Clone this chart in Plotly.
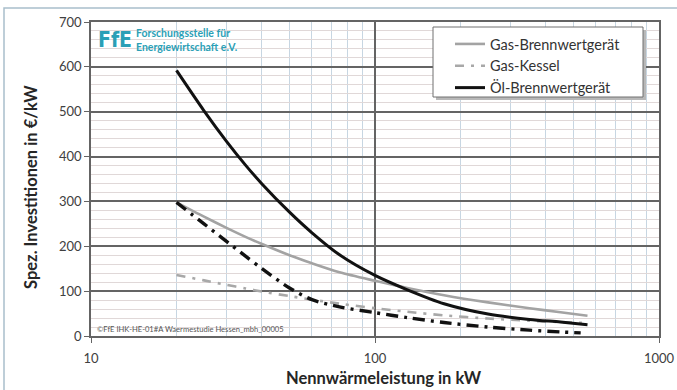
import plotly.graph_objects as go

# Nennwärmeleistung in kW
leistung = [20, 25, 30, 35, 40, 50, 60, 75, 100, 130, 175, 250, 350, 450, 560]

# Spezifische Investitionen in €/kW
gas_brennwert = [298, 266, 241, 221, 205, 180, 162, 142, 123, 107, 91, 75, 62, 53, 45]
gas_kessel = [136, 124, 114, 106, 99, 89, 81, 72, 62, 54, 46, 39, 34, 31, 29]
oel_brennwert = [592, 502, 434, 381, 339, 276, 230, 181, 135, 103, 72, 49, 37, 31, 25]
oel_kessel_x = [20, 25, 30, 35, 40, 50, 60, 75, 100, 130, 175, 250, 350, 450, 530]
oel_kessel = [298, 250, 211, 178, 150, 107, 81, 65, 52, 41, 30, 20, 13, 9, 7]

x_major = [10, 100, 1000]
x_minor = [20, 30, 40, 50, 60, 70, 80, 90, 200, 300, 400, 500, 600, 700, 800, 900]

TXT = "#404040"
GRID = "#646464"
TEAL = "#2b9fb6"
FONT = "Lato, 'Noto Sans', sans-serif"

fig = go.Figure()

fig.add_trace(go.Scatter(x=leistung, y=gas_brennwert, mode="lines", name="Gas-Brennwertgerät",
                         line=dict(color="#a3a3a3", width=2.6, shape="spline", smoothing=0.8)))
fig.add_trace(go.Scatter(x=leistung, y=gas_kessel, mode="lines", name="Gas-Kessel",
                         line=dict(color="#a8a8a8", width=2.6, dash="9px,7px,3px,7px",
                                   shape="spline", smoothing=0.8)))
fig.add_trace(go.Scatter(x=leistung, y=oel_brennwert, mode="lines", name="Öl-Brennwertgerät",
                         line=dict(color="#111111", width=3, shape="spline", smoothing=0.8)))
fig.add_trace(go.Scatter(x=oel_kessel_x, y=oel_kessel, mode="lines", name="Öl-Kessel", showlegend=False,
                         line=dict(color="#111111", width=3.4, dash="12px,6px,3px,6px",
                                   shape="spline", smoothing=0.8)))

# plot-area geometry in pixels, used to convert overlay positions to paper units
PL, PR, PT, PB = 91, 659, 22, 336
W, H = PR - PL, PB - PT


def px_x(p):
    return (p - PL) / W


def px_y(p):
    return (PB - p) / H


shapes = [
    # outer frame
    dict(type="rect", xref="paper", yref="paper", x0=px_x(4), x1=px_x(700), y0=px_y(420), y1=px_y(8),
         line=dict(color="#a9bfcb", width=1.5), fillcolor="rgba(0,0,0,0)", layer="below"),
    # white backing behind the logo
    dict(type="rect", xref="paper", yref="paper", x0=px_x(92), x1=px_x(243), y0=px_y(55), y1=px_y(23),
         line=dict(width=0), fillcolor="white", layer="between"),
    # white backing behind the file reference
    dict(type="rect", xref="paper", yref="paper", x0=px_x(92), x1=px_x(286), y0=px_y(334), y1=px_y(323),
         line=dict(width=0), fillcolor="white", layer="between"),
    # legend box shadow and box
    dict(type="rect", xref="paper", yref="paper", x0=px_x(436), x1=px_x(646), y0=px_y(100), y1=px_y(30),
         line=dict(width=0), fillcolor="#b8b8b8", layer="above"),
    dict(type="rect", xref="paper", yref="paper", x0=px_x(433), x1=px_x(643), y0=px_y(97), y1=px_y(27),
         line=dict(color="#707070", width=1), fillcolor="white", layer="above"),
]

annotations = [
    dict(text="<b>FfE</b>", xref="paper", yref="paper", x=px_x(96), y=px_y(39.5), xanchor="left",
         yanchor="middle", showarrow=False,
         font=dict(family="DejaVu Sans Condensed, DejaVu Sans", size=21, color=TEAL)),
    dict(text="<b>Forschungsstelle für<br>Energiewirtschaft e.V.</b>", xref="paper", yref="paper",
         x=px_x(134), y=px_y(40), xanchor="left", yanchor="middle", align="left", showarrow=False,
         font=dict(family=FONT, size=10.5, color=TEAL)),
    dict(text="©FfE IHK-HE-01#A Waermestudie Hessen_mbh_00005", xref="paper", yref="paper",
         x=px_x(95), y=px_y(328.5), xanchor="left", yanchor="middle", showarrow=False,
         font=dict(family=FONT, size=7.6, color="#555555")),
    # axis titles
    dict(text="<b>Nennwärmeleistung in kW</b>", xref="paper", yref="paper",
         x=px_x(384), y=px_y(378), xanchor="center", yanchor="middle", showarrow=False,
         font=dict(family=FONT, size=16.5, color="#262626")),
    dict(text="<b>Spez. Investitionen in €/kW</b>", xref="paper", yref="paper", textangle=-90,
         x=px_x(31), y=px_y(187), xanchor="center", yanchor="middle", showarrow=False,
         font=dict(family=FONT, size=16.5, color="#262626")),
]

fig.update_layout(
    width=677, height=390,
    margin=dict(l=PL, r=677 - PR, t=PT, b=390 - PB, pad=0, autoexpand=False),
    paper_bgcolor="white", plot_bgcolor="white",
    font=dict(family=FONT, size=13, color=TXT),
    shapes=shapes, annotations=annotations,
    showlegend=True,
    legend=dict(x=px_x(450), y=px_y(28), xanchor="left", yanchor="top", bgcolor="rgba(0,0,0,0)",
                borderwidth=0, font=dict(family=FONT, size=14.5, color="#333333"),
                tracegroupgap=0, itemwidth=30),
)

fig.update_xaxes(
    type="log", range=[1, 3], tickvals=x_major, ticktext=[str(v) for v in x_major],
    showgrid=True, gridcolor=GRID, gridwidth=1.5,
    minor=dict(tickvals=x_minor, showgrid=True, gridcolor="#c7d6e2", gridwidth=1, ticks=""),
    showline=True, linecolor=GRID, linewidth=1.5, mirror=True,
    ticks="outside", ticklen=5, tickcolor=GRID, ticklabelstandoff=5,
    tickfont=dict(size=13, color=TXT),
    automargin=False, zeroline=False,
)
fig.update_yaxes(
    range=[0, 700], dtick=100, tick0=0,
    showgrid=True, gridcolor=GRID, gridwidth=1.5,
    minor=dict(dtick=20, showgrid=True, gridcolor="#e0d8d8", gridwidth=1, ticks=""),
    showline=True, linecolor=GRID, linewidth=1.5, mirror=True,
    ticks="outside", ticklen=5, tickcolor=GRID,
    tickfont=dict(size=13, color=TXT),
    automargin=False, zeroline=False,
)

fig.write_html("out.html")
